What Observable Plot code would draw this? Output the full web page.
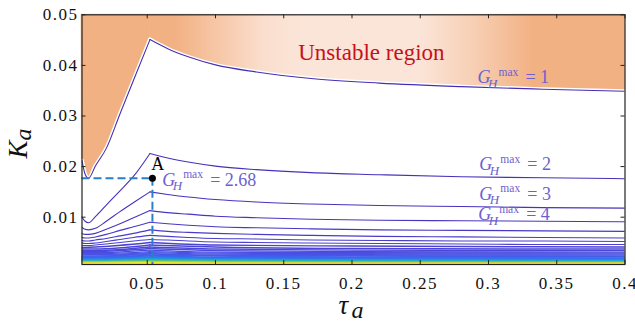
<!DOCTYPE html>
<html><head><meta charset="utf-8">
<script src="https://cdn.jsdelivr.net/npm/d3@7"></script>
<script src="https://cdn.jsdelivr.net/npm/@observablehq/plot@0.6"></script>
<style>
body{margin:0;background:#fff;}
svg text, svg g { font-family: 'Liberation Serif', 'Times New Roman', serif !important; }
g[aria-label="x-axis tick label"] text, g[aria-label="y-axis tick label"] text {letter-spacing:1.5px;}
</style></head><body><div id="chart"></div>
<script>
// ---- data ----
const tauGrid = [0.0022, 0.0045, 0.007, 0.012, 0.02, 0.03, 0.04, 0.052, 0.065, 0.08, 0.1, 0.13, 0.17, 0.22, 0.28, 0.34, 0.4];
const peakIdx = 7;
const gMain = [1, 2, 3, 4, 5, 6, 7, 8];
const kMain = [
  [0.0212, 0.0185, 0.0177, 0.0201, 0.0236, 0.0304, 0.0371, 0.0451, 0.0433, 0.0417, 0.0401, 0.0387, 0.0374, 0.0365, 0.0358, 0.0353, 0.0349],
  [0.0100, 0.0092, 0.0089, 0.0101, 0.0124, 0.0152, 0.0181, 0.0226, 0.0217, 0.0209, 0.0201, 0.0194, 0.0188, 0.0184, 0.0180, 0.0178, 0.0176],
  [0.0080, 0.0076, 0.0075, 0.0078, 0.0092, 0.0111, 0.0129, 0.0150, 0.0145, 0.0140, 0.0135, 0.0130, 0.0126, 0.0123, 0.0121, 0.0119, 0.0118],
  [0.0068, 0.0066, 0.0066, 0.0068, 0.0076, 0.0087, 0.0099, 0.0113, 0.0109, 0.0106, 0.0102, 0.0099, 0.0096, 0.0094, 0.0093, 0.0092, 0.0091],
  [0.0060, 0.0059, 0.0059, 0.0061, 0.0066, 0.0074, 0.0081, 0.0090, 0.0087, 0.0084, 0.0081, 0.0079, 0.0077, 0.0075, 0.0074, 0.0073, 0.0072],
  [0.0054, 0.0053, 0.0053, 0.0055, 0.0058, 0.0063, 0.0068, 0.0075, 0.0072, 0.0070, 0.0068, 0.0066, 0.0064, 0.0062, 0.0061, 0.0060, 0.0059],
  [0.0049, 0.0048, 0.0048, 0.0049, 0.0052, 0.0056, 0.0060, 0.0064, 0.0062, 0.0060, 0.0058, 0.0057, 0.0055, 0.0054, 0.0053, 0.0053, 0.0052],
  [0.0044, 0.0044, 0.0044, 0.0045, 0.0047, 0.0050, 0.0053, 0.0056, 0.0055, 0.0053, 0.0051, 0.0050, 0.0049, 0.0048, 0.0047, 0.0046, 0.0046]
];
const tauCoarse = [0.0022, 0.012, 0.052, 0.1, 0.2, 0.4];
const peakIdxCoarse = 2;
const gDense = [9, 10, 11, 12, 13, 14, 15, 16, 17, 18, 19, 20, 21, 22, 23, 24, 25, 26, 27, 28, 30, 32, 35, 38, 41, 44, 47, 50];
const kDense = [
  [0.0040, 0.0041, 0.0050, 0.0045, 0.0043, 0.0041],
  [0.0037, 0.0037, 0.0045, 0.0041, 0.0038, 0.0037],
  [0.0034, 0.0034, 0.0041, 0.0037, 0.0035, 0.0034],
  [0.0032, 0.0032, 0.0038, 0.0034, 0.0032, 0.0031],
  [0.0030, 0.0030, 0.0035, 0.0031, 0.0030, 0.0029],
  [0.0028, 0.0028, 0.0032, 0.0029, 0.0028, 0.0027],
  [0.0026, 0.0026, 0.0030, 0.0027, 0.0026, 0.0025],
  [0.0025, 0.0025, 0.0028, 0.0025, 0.0024, 0.0023],
  [0.0023, 0.0023, 0.0027, 0.0024, 0.0023, 0.0022],
  [0.0022, 0.0022, 0.0025, 0.0023, 0.0021, 0.0021],
  [0.0021, 0.0021, 0.0024, 0.0021, 0.0020, 0.0019],
  [0.0020, 0.0020, 0.0023, 0.0020, 0.0019, 0.0018],
  [0.0019, 0.0019, 0.0021, 0.0019, 0.0018, 0.0018],
  [0.0018, 0.0018, 0.0021, 0.0019, 0.0017, 0.0017],
  [0.0017, 0.0017, 0.0020, 0.0018, 0.0017, 0.0016],
  [0.00165, 0.00165, 0.0019, 0.0017, 0.0016, 0.0015],
  [0.0016, 0.0016, 0.0018, 0.0016, 0.0015, 0.0015],
  [0.0015, 0.0015, 0.0017, 0.0016, 0.0015, 0.0014],
  [0.00145, 0.00145, 0.0017, 0.0015, 0.0014, 0.00135],
  [0.0014, 0.0014, 0.0016, 0.0015, 0.0014, 0.0013],
  [0.0013, 0.0013, 0.0015, 0.0014, 0.0013, 0.0012],
  [0.00125, 0.00125, 0.0014, 0.0013, 0.0012, 0.00115],
  [0.0012, 0.0012, 0.0013, 0.0012, 0.0011, 0.0011],
  [0.0011, 0.0011, 0.0012, 0.0011, 0.0010, 0.0010],
  [0.0010, 0.0010, 0.0011, 0.0010, 0.00094, 0.0009],
  [0.00092, 0.00092, 0.0010, 0.00093, 0.00088, 0.00084],
  [0.00086, 0.00086, 0.00096, 0.00087, 0.00082, 0.00078],
  [0.0008, 0.0008, 0.0009, 0.0008, 0.00076, 0.00072]
];
const xTicks = [0.05, 0.1, 0.15, 0.2, 0.25, 0.3, 0.35, 0.4];
const yTicks = [0.01, 0.02, 0.03, 0.04, 0.05];
const xDomain = [0.0022, 0.4];
const yDomain = [0.00065, 0.05];
const labelValues = ["1", "2", "3", "4", "2.68"];
const labelTau = [0.2919, 0.2933, 0.2933, 0.2924, 0.0609];
const labelK = [0.03648, 0.01923, 0.01344, 0.00935, 0.01626];
const pointA = {tau: 0.0538, K: 0.0177, name: "A", labelK: 0.01937, labelTau: 0.0529};
const regionText = {text: "Unstable region", tau: 0.2142, K: 0.04097};

// ---- styling ----
const colorLevels = [1, 8, 16, 22, 26, 30, 34, 40, 50];
const colorRange = ["#4430b8", "#4a3fd0", "#4a55e8", "#3570f0", "#1aa0e0", "#20b8b0", "#70c468", "#d8c83a", "#f2f020"];
const labelColor = "#6e5fd0";
const serif = "'Liberation Serif', 'Times New Roman', serif";

// ---- build tidy rows ----
const rows = [];
function addCurve(G, taus, ks, pk) {
  taus.forEach((t, i) => {
    if (i <= pk) rows.push({G, seg: G + "L", tau: t, K: ks[i]});
    if (i >= pk) rows.push({G, seg: G + "R", tau: t, K: ks[i]});
  });
}
gMain.forEach((G, j) => addCurve(G, tauGrid, kMain[j], peakIdx));
gDense.forEach((G, j) => addCurve(G, tauCoarse, kDense[j], peakIdxCoarse));
const g1 = rows.filter(d => d.G === 1);
const mainRows = rows.filter(d => d.G <= 8);
const denseRows = rows.filter(d => d.G > 8);

const mL = 81.5, mR = 10.5, mT = 14.3, mB = 58, W = 635, H = 322;
const innerW = W - mL - mR, innerH = H - mT - mB;

const lab = (extra) => Object.assign({
  x: (d, i) => labelTau[i], y: (d, i) => labelK[i],
  fill: labelColor, textAnchor: "start", lineAnchor: "bottom", fontFamily: serif
}, extra);

const plot = Plot.plot({
  width: W, height: H,
  marginLeft: mL, marginRight: mR, marginTop: mT, marginBottom: mB,
  style: {fontFamily: serif, background: "white"},
  x: {domain: xDomain, label: null},
  y: {domain: yDomain, label: null},
  color: {type: "linear", domain: colorLevels, range: colorRange},
  marks: [
    Plot.areaY(g1, {x: "tau", y1: "K", y2: () => yDomain[1], z: "seg", curve: "monotone-x",
      fill: "url(#ugrad)", stroke: "url(#ugrad)", strokeWidth: 0.8}),
    Plot.line(g1, {x: "tau", y: "K", z: "seg", curve: "monotone-x", stroke: "white", strokeWidth: 4}),
    Plot.line(denseRows, {x: "tau", y: "K", z: "seg", stroke: "G", curve: "monotone-x", strokeWidth: 1.4, clip: true}),
    Plot.line(mainRows, {x: "tau", y: "K", z: "seg", stroke: "G", curve: "monotone-x", strokeWidth: 1.1, clip: true}),
    Plot.ruleY([pointA], {y: "K", x1: () => xDomain[0], x2: "tau", stroke: "#2a80c6", strokeWidth: 2, strokeDasharray: "8,4"}),
    Plot.ruleX([pointA], {x: "tau", y1: "K", y2: () => yDomain[0], stroke: "#2a80c6", strokeWidth: 2, strokeDasharray: "8,4"}),
    Plot.dot([pointA], {x: "tau", y: "K", r: 3.5, fill: "black"}),
    Plot.text([pointA], {x: "labelTau", y: "labelK", text: "name", fill: "black", fontSize: 18, textAnchor: "start", lineAnchor: "bottom", fontFamily: serif}),
    Plot.text([regionText], {x: "tau", y: "K", text: "text", fill: "#c8101a", fontSize: 23, textAnchor: "middle", lineAnchor: "bottom", fontFamily: serif}),
    // G_H^max = value labels
    Plot.text(labelValues, lab({text: () => "G", fontSize: 18, fontStyle: "italic"})),
    Plot.text(labelValues, lab({text: () => "H", fontSize: 13, fontStyle: "italic", dx: 10.5, dy: 4.5})),
    Plot.text(labelValues, lab({text: () => "max", fontSize: 11.5, dx: 21, dy: -7.5})),
    Plot.text(labelValues, lab({text: d => "= " + d, fontSize: 18, dx: 48})),
    // frame & ticks (inward, mirrored)
    Plot.tickX(xTicks, {x: d => d, insetTop: innerH - 4, stroke: "#222"}),
    Plot.tickX(xTicks, {x: d => d, insetBottom: innerH - 4, stroke: "#222"}),
    Plot.tickY(yTicks, {y: d => d, insetRight: innerW - 4, stroke: "#222"}),
    Plot.tickY(yTicks, {y: d => d, insetLeft: innerW - 4, stroke: "#222"}),
    Plot.frame({stroke: "#222", strokeWidth: 1.2}),
    Plot.axisX({ticks: xTicks, tickSize: 0, tickPadding: 12, fontSize: 17, tickFormat: d => String(d), fill: "#111"}),
    Plot.axisY({ticks: yTicks, tickSize: 0, tickPadding: 3.5, fontSize: 17, tickFormat: d => d.toFixed(2), fill: "#111"}),
    // axis titles
    Plot.text(["K"], {frameAnchor: "left", text: d => d, dx: 26 - mL, dy: 158 - (mT + innerH / 2), rotate: -90,
      fontSize: 27, fontStyle: "italic", textAnchor: "start", lineAnchor: "bottom", fill: "#111", fontFamily: serif}),
    Plot.text(["a"], {frameAnchor: "left", text: d => d, dx: 30 - mL, dy: 140 - (mT + innerH / 2), rotate: -90,
      fontSize: 24, fontStyle: "italic", textAnchor: "start", lineAnchor: "bottom", fill: "#111", fontFamily: serif}),
    Plot.text(["τ"], {frameAnchor: "bottom", text: d => d, dx: 338 - (mL + innerW / 2), dy: 313 - (mT + innerH),
      fontSize: 27, fontStyle: "italic", textAnchor: "start", lineAnchor: "bottom", fill: "#111", fontFamily: serif}),
    Plot.text(["a"], {frameAnchor: "bottom", text: d => d, dx: 351 - (mL + innerW / 2), dy: 317 - (mT + innerH),
      fontSize: 24, fontStyle: "italic", textAnchor: "start", lineAnchor: "bottom", fill: "#111", fontFamily: serif})
  ]
});

// gradient for the unstable region
const xs = plot.scale("x");
const gx1 = xs.apply(xDomain[0]), gx2 = xs.apply(xDomain[1]);
const gradStops = [
  [0.0022, "#f2b183"], [0.071, "#f2b183"], [0.10, "#f6c6a5"], [0.137, "#fadfcf"], [0.163, "#fbe5d8"],
  [0.25, "#fbe5d8"], [0.29, "#f7cfb4"], [0.333, "#f2b183"], [0.4, "#f2b183"]
];
const defs = d3.select(plot).insert("defs", ":first-child");
const grad = defs.append("linearGradient").attr("id", "ugrad").attr("gradientUnits", "userSpaceOnUse")
  .attr("x1", gx1).attr("x2", gx2).attr("y1", 0).attr("y2", 0);
gradStops.forEach(([t, c]) => grad.append("stop").attr("offset", (xs.apply(t) - gx1) / (gx2 - gx1)).attr("stop-color", c));

document.getElementById("chart").appendChild(plot);
</script></body></html>
